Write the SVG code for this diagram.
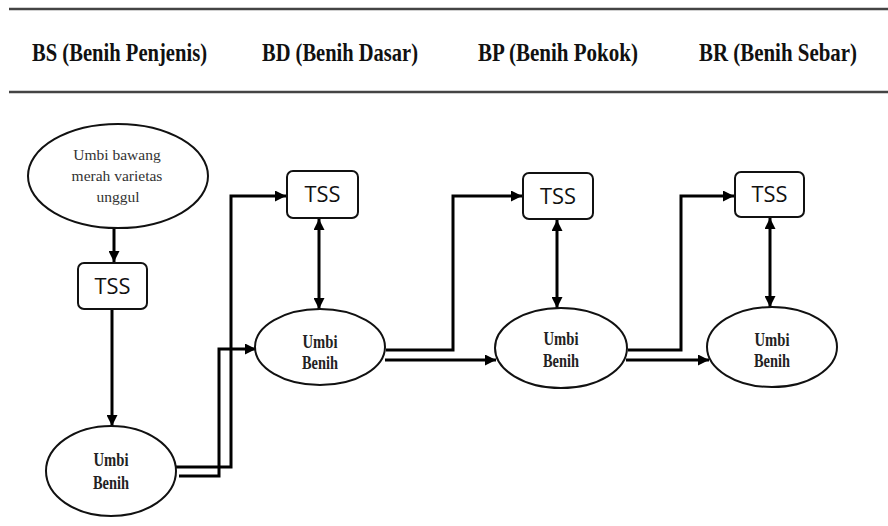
<svg xmlns="http://www.w3.org/2000/svg" width="888" height="526" viewBox="0 0 888 526">
<defs>
<marker id="ah" viewBox="0 0 10 10" refX="10" refY="5" markerWidth="11" markerHeight="11" markerUnits="userSpaceOnUse" orient="auto-start-reverse">
<path d="M0,0 L10,5 L0,10 z" fill="#000"/>
</marker>
<style>
.hdr{font-family:"Liberation Serif","Times New Roman",serif;font-weight:bold;font-size:25px;fill:#111;text-anchor:middle}
.rule{stroke:#444;stroke-width:2.5}
.ell{fill:#fff;stroke:#111;stroke-width:2}
.box{fill:#fff;stroke:#111;stroke-width:2}
.tss{font-family:"Open Sans","Noto Sans",sans-serif;font-size:22px;fill:#111;text-anchor:middle}
.ub{font-family:"Liberation Serif","Times New Roman",serif;font-weight:bold;font-size:18px;fill:#222;text-anchor:middle}
.src{font-family:"Liberation Serif","Times New Roman",serif;font-size:15.5px;fill:#333;text-anchor:middle}
.cn{fill:none;stroke:#000;stroke-width:3}
</style>
</defs>
<rect width="888" height="526" fill="#fff"/>
<g id="header">
<line class="rule" x1="9" y1="9" x2="888" y2="9"/>
<line class="rule" x1="9" y1="92" x2="888" y2="92"/>
<text class="hdr" x="119.5" y="61" textLength="175" lengthAdjust="spacingAndGlyphs">BS (Benih Penjenis)</text>
<text class="hdr" x="340" y="61" textLength="156" lengthAdjust="spacingAndGlyphs">BD (Benih Dasar)</text>
<text class="hdr" x="558" y="61" textLength="160" lengthAdjust="spacingAndGlyphs">BP (Benih Pokok)</text>
<text class="hdr" x="857" y="61" style="text-anchor:end" textLength="158" lengthAdjust="spacingAndGlyphs">BR (Benih Sebar)</text>
</g>
<g id="connectors">
<path class="cn" d="M114,228 V262" marker-end="url(#ah)"/>
<path class="cn" d="M112,309 V426" marker-end="url(#ah)"/>
<path class="cn" d="M176,467 H231 V196 H286" marker-end="url(#ah)"/>
<path class="cn" d="M179,476 H219 V349 H256" marker-end="url(#ah)"/>
<path class="cn" d="M319,219 V309" marker-start="url(#ah)" marker-end="url(#ah)"/>
<path class="cn" d="M386,350 H453 V196 H522" marker-end="url(#ah)"/>
<path class="cn" d="M385,360 H496" marker-end="url(#ah)"/>
<path class="cn" d="M557,220 V308" marker-start="url(#ah)" marker-end="url(#ah)"/>
<path class="cn" d="M628,350 H681 V196 H734" marker-end="url(#ah)"/>
<path class="cn" d="M626,360 H709" marker-end="url(#ah)"/>
<path class="cn" d="M770,218 V307" marker-start="url(#ah)" marker-end="url(#ah)"/>
</g>
<g id="source">
<ellipse class="ell" cx="118" cy="176" rx="90" ry="52"/>
<text class="src" x="117" y="160">Umbi bawang</text>
<text class="src" x="117" y="181">merah varietas</text>
<text class="src" x="118" y="202">unggul</text>
</g>
<g id="tss1">
<rect class="box" x="78" y="263" width="69" height="46" rx="6"/>
<text class="tss" x="112.5" y="294" textLength="36" lengthAdjust="spacingAndGlyphs">TSS</text>
</g>
<g id="umbi1">
<ellipse class="ell" cx="111" cy="471" rx="65" ry="45"/>
<text class="ub" x="111" y="466" textLength="35" lengthAdjust="spacingAndGlyphs">Umbi</text>
<text class="ub" x="111" y="489" textLength="36" lengthAdjust="spacingAndGlyphs">Benih</text>
</g>
<g id="tss2">
<rect class="box" x="287" y="171" width="71" height="47" rx="6"/>
<text class="tss" x="322.5" y="202" textLength="36" lengthAdjust="spacingAndGlyphs">TSS</text>
</g>
<g id="umbi2">
<ellipse class="ell" cx="320" cy="347" rx="65" ry="38"/>
<text class="ub" x="320" y="348" textLength="35" lengthAdjust="spacingAndGlyphs">Umbi</text>
<text class="ub" x="320" y="369" textLength="36" lengthAdjust="spacingAndGlyphs">Benih</text>
</g>
<g id="tss3">
<rect class="box" x="523" y="173" width="70" height="46" rx="6"/>
<text class="tss" x="558" y="204" textLength="36" lengthAdjust="spacingAndGlyphs">TSS</text>
</g>
<g id="umbi3">
<ellipse class="ell" cx="561" cy="348" rx="66" ry="40"/>
<text class="ub" x="561" y="345" textLength="35" lengthAdjust="spacingAndGlyphs">Umbi</text>
<text class="ub" x="561" y="367" textLength="36" lengthAdjust="spacingAndGlyphs">Benih</text>
</g>
<g id="tss4">
<rect class="box" x="735" y="172" width="69" height="45" rx="6"/>
<text class="tss" x="769.5" y="202" textLength="36" lengthAdjust="spacingAndGlyphs">TSS</text>
</g>
<g id="umbi4">
<ellipse class="ell" cx="772" cy="347" rx="65" ry="40"/>
<text class="ub" x="772" y="346" textLength="35" lengthAdjust="spacingAndGlyphs">Umbi</text>
<text class="ub" x="772" y="367" textLength="36" lengthAdjust="spacingAndGlyphs">Benih</text>
</g>
</svg>
